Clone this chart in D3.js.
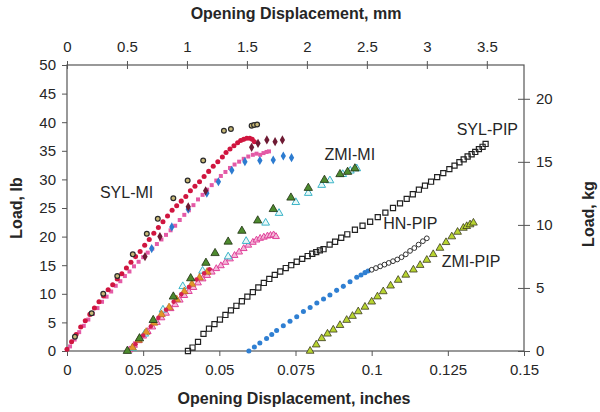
<!DOCTYPE html>
<html><head><meta charset="utf-8">
<script src="https://cdn.jsdelivr.net/npm/d3@7"></script>
<style>
html,body{margin:0;padding:0;background:#fff;}
svg{display:block;font-family:"Liberation Sans",Arial,sans-serif;}
</style></head>
<body><svg id="c" width="600" height="412"></svg>
<script>
// ---- tick labels ----
const inchTicks = [0, 0.025, 0.05, 0.075, 0.1, 0.125, 0.15];
const mmTicks = [0, 0.5, 1, 1.5, 2, 2.5, 3, 3.5];
const lbTicks = [0, 5, 10, 15, 20, 25, 30, 35, 40, 45, 50];
const kgTicks = [0, 5, 10, 15, 20];

// ---- series: [inches, lb] ----
const sylMiRed = [[0,0.3],[0.0015,1.6],[0.003,2.9],[0.0045,4.2],[0.006,5.3],[0.0075,6.4],[0.009,7.5],[0.0105,8.6],[0.012,9.6],[0.0135,10.7],[0.015,11.6],[0.0165,12.6],[0.018,13.5],[0.0195,14.5],[0.021,15.5],[0.0225,16.5],[0.024,17.4],[0.0255,18.5],[0.027,19.5],[0.0285,20.6],[0.03,21.6],[0.0315,22.6],[0.033,23.6],[0.0345,24.6],[0.036,25.4],[0.0375,26.2],[0.039,27.0],[0.0405,28.0],[0.042,28.8],[0.0435,29.6],[0.045,30.5],[0.0465,31.4],[0.048,32.3],[0.0495,33.1],[0.051,33.9],[0.0522,34.7],[0.0535,35.3],[0.0548,35.9],[0.056,36.4],[0.057,36.8],[0.058,37.0],[0.059,37.2],[0.06,37.2],[0.0608,37.0],[0.0615,36.6]];
const sylMiPink = [[0.001,0.8],[0.0025,2.0],[0.004,3.3],[0.0055,4.4],[0.007,5.5],[0.0085,6.5],[0.01,7.5],[0.0115,8.6],[0.013,9.5],[0.0145,10.4],[0.016,11.4],[0.0175,12.2],[0.019,13.1],[0.0205,13.9],[0.022,14.8],[0.0235,15.6],[0.025,16.4],[0.0265,17.2],[0.028,17.9],[0.0295,18.7],[0.031,19.5],[0.0325,20.3],[0.034,21.1],[0.0355,21.9],[0.037,22.9],[0.0385,23.8],[0.04,24.6],[0.0415,25.5],[0.043,26.5],[0.0445,27.3],[0.046,28.2],[0.0475,29.0],[0.049,29.8],[0.0505,30.6],[0.052,31.3],[0.0535,32.0],[0.055,32.6],[0.0565,33.1],[0.058,33.6],[0.0595,34.0],[0.061,34.3],[0.0622,34.5],[0.0634,34.3],[0.0645,34.6],[0.0655,34.8],[0.0663,34.9]];
const sylMiBlack = [[0.0026,2.5],[0.0081,6.6],[0.0119,10.0],[0.0165,13.1],[0.0216,16.9],[0.0262,20.5],[0.0298,23.1],[0.0349,26.7],[0.0396,29.8],[0.0447,33.3],[0.0515,38.5],[0.0538,38.8],[0.0606,39.4],[0.0614,39.5],[0.0624,39.6]];
const sylMiMaroon = [[0.0256,16.5],[0.0305,20.0],[0.0398,25.2],[0.0455,28.0],[0.0606,35.6],[0.0627,36.3],[0.0656,36.9],[0.0683,36.6],[0.0707,36.9]];
const sylMiBlue = [[0.0278,17.9],[0.0344,21.7],[0.0398,24.8],[0.0459,27.6],[0.0497,29.6],[0.0541,31.6],[0.0584,33.1],[0.0633,33.3],[0.0677,33.4],[0.071,34.1],[0.0737,33.8]];

const zmiMiGreen = [[0.0198,0],[0.0238,2.2],[0.0283,5.4],[0.0349,9.5],[0.0406,12.7],[0.0456,15.4],[0.0486,17.1],[0.0529,19.1],[0.0574,21.0],[0.0626,22.8],[0.0677,24.8],[0.0735,26.8],[0.0792,28.5],[0.0845,29.9],[0.0896,30.9],[0.0921,31.3],[0.0945,31.9]];
const zmiMiCyan = [[0.0215,0.5],[0.0255,3.0],[0.0315,7.2],[0.038,11.3],[0.0445,14.0],[0.0529,16.5],[0.0588,19.2],[0.0652,22.4],[0.0696,24.1],[0.0751,26.0],[0.0792,27.6],[0.0836,29.0],[0.0863,29.8],[0.0905,30.9],[0.093,31.5],[0.0951,31.9]];
const zmiMiPink = [[0.0205,0.2],[0.022,1.0],[0.0235,1.8],[0.025,2.6],[0.0265,3.4],[0.028,4.2],[0.0295,5.0],[0.031,5.8],[0.0325,6.6],[0.034,7.4],[0.0355,8.1],[0.037,8.9],[0.0385,9.7],[0.04,10.4],[0.0415,11.1],[0.043,11.9],[0.0445,12.6],[0.046,13.2],[0.0475,13.8],[0.049,14.4],[0.0505,14.9],[0.052,15.5],[0.0535,16.1],[0.055,16.7],[0.0565,17.3],[0.058,17.9],[0.0595,18.5],[0.061,19.0],[0.0622,19.4],[0.0634,19.7],[0.0646,19.9],[0.0658,20.1],[0.0668,20.2],[0.0678,20.3],[0.0686,20.0]];
const zmiMiOrange = [[0.0215,0.6],[0.0235,1.9],[0.026,3.3],[0.0285,4.9],[0.031,6.4],[0.0335,7.6],[0.036,9.0],[0.0385,10.4],[0.041,11.7],[0.0435,12.8],[0.046,13.8]];
const zmiMiRed = [[0.0225,1.2],[0.025,2.7],[0.0275,4.3],[0.03,5.8],[0.0325,7.2],[0.035,8.6],[0.0375,9.9],[0.04,11.2],[0.0425,12.5],[0.045,13.6],[0.0468,14.3]];

const sylPip = [[0.0397,0.0],[0.0412,0.6],[0.043,1.6],[0.0448,3.0],[0.0466,3.9],[0.0484,4.7],[0.0502,5.5],[0.052,6.3],[0.0538,7.1],[0.0556,7.9],[0.0574,8.7],[0.0592,9.5],[0.061,10.3],[0.0628,11.1],[0.0646,11.9],[0.0664,12.6],[0.0682,13.3],[0.07,13.9],[0.0718,14.5],[0.0736,15.0],[0.0754,15.6],[0.0772,16.1],[0.079,16.6],[0.0805,17.0],[0.0818,17.3],[0.083,17.6],[0.0842,17.8],[0.0862,18.6],[0.088,19.1],[0.09,19.8],[0.092,20.4],[0.0945,21.2],[0.097,21.9],[0.0995,22.6],[0.102,23.4],[0.1045,24.2],[0.107,25.0],[0.1093,25.8],[0.1115,26.6],[0.1135,27.4],[0.1155,28.2],[0.1175,28.9],[0.1195,29.6],[0.1215,30.4],[0.1235,31.1],[0.1255,31.8],[0.1272,32.4],[0.1288,33.0],[0.1302,33.5],[0.1315,34.0],[0.1328,34.4],[0.134,34.8],[0.1352,35.3],[0.1364,35.7],[0.1374,36.2]];
const hnPipBlue = [[0.0597,0],[0.0615,0.7],[0.0633,1.4],[0.0655,2.2],[0.0672,2.9],[0.0688,3.6],[0.071,4.4],[0.0732,5.2],[0.0754,6.0],[0.0776,6.9],[0.0798,7.6],[0.082,8.4],[0.0842,9.1],[0.0863,9.8],[0.0885,10.6],[0.0907,11.3],[0.0929,12.1],[0.0951,12.9],[0.0965,13.3],[0.0978,13.7],[0.0988,14.0]];
const hnPipOpen = [[0.1,14.2],[0.1014,14.5],[0.1028,14.8],[0.1042,15.1],[0.1056,15.4],[0.107,15.7],[0.1084,16.0],[0.1098,16.4],[0.1112,16.9],[0.1126,17.5],[0.114,18.0],[0.1154,18.6],[0.1168,19.2],[0.1181,19.7]];
const zmiPip = [[0.0798,0.0],[0.0818,1.1],[0.0836,2.2],[0.0855,3.0],[0.0874,3.7],[0.0896,4.5],[0.0918,5.4],[0.0937,6.1],[0.0956,6.9],[0.0978,7.7],[0.1,8.6],[0.1019,9.5],[0.1038,10.4],[0.1062,11.4],[0.1087,12.4],[0.1112,13.3],[0.1137,14.2],[0.1159,15.0],[0.1181,15.9],[0.1202,16.9],[0.1224,18.0],[0.1244,19.0],[0.1263,20.0],[0.1282,20.8],[0.1301,21.5],[0.1312,21.8],[0.1323,22.1],[0.1334,22.4]];

const curveLabels = [
  {text:"SYL-MI", x:0.0108, y:26.8},
  {text:"ZMI-MI", x:0.0845, y:33.4},
  {text:"SYL-PIP", x:0.1279, y:37.8},
  {text:"HN-PIP", x:0.1038, y:21.3},
  {text:"ZMI-PIP", x:0.1230, y:14.7}
];

// ---- chart ----
const svg = d3.select("#c");
const L = 67, R = 524, T = 65, B = 351;
const x = d3.scaleLinear().domain([0, 0.15]).range([L, R]);
const xMm = d3.scaleLinear().domain([0, 0.15 * 25.4]).range([L, R]);
const y = d3.scaleLinear().domain([0, 50]).range([B, T]);
const yKg = d3.scaleLinear().domain([0, 50 / 2.20462]).range([B, T]);

const axisColor = "#555";
const textColor = "#262626";

function styleAxis(g) {
  g.select(".domain").remove();
  g.selectAll(".tick line").attr("stroke", axisColor).attr("stroke-width", 1);
  g.selectAll(".tick text").attr("fill", textColor).attr("font-size", 15)
   .attr("font-family", '"Liberation Sans", Arial, sans-serif');
}

// bottom
svg.append("g").attr("transform", `translate(0,${B})`)
  .call(d3.axisBottom(x).tickValues(inchTicks).tickSize(5).tickPadding(8).tickFormat(d => String(d)))
  .call(styleAxis);
// top (crossing ticks)
svg.append("g").attr("transform", `translate(0,${T})`)
  .call(d3.axisTop(xMm).tickValues(mmTicks).tickSize(4).tickPadding(9).tickFormat(d => String(d)))
  .call(styleAxis);
svg.append("g").attr("transform", `translate(0,${T})`)
  .call(d3.axisTop(xMm).tickValues(mmTicks).tickSize(-4).tickFormat(""))
  .call(styleAxis);
// left
svg.append("g").attr("transform", `translate(${L},0)`)
  .call(d3.axisLeft(y).tickValues(lbTicks).tickSize(5).tickPadding(6))
  .call(styleAxis);
// right (crossing ticks)
svg.append("g").attr("transform", `translate(${R},0)`)
  .call(d3.axisRight(yKg).tickValues(kgTicks).tickSize(6).tickPadding(6))
  .call(styleAxis);
svg.append("g").attr("transform", `translate(${R},0)`)
  .call(d3.axisRight(yKg).tickValues(kgTicks).tickSize(-6).tickFormat(""))
  .call(styleAxis);

// frame
svg.append("rect").attr("x", L).attr("y", T).attr("width", R - L).attr("height", B - T)
  .attr("fill", "none").attr("stroke", axisColor).attr("stroke-width", 1.2);

// titles
svg.append("text").attr("x", 296).attr("y", 19).attr("text-anchor", "middle")
  .attr("font-size", 16).attr("font-weight", "bold").attr("fill", textColor)
  .text("Opening Displacement, mm");
svg.append("text").attr("x", 294).attr("y", 404).attr("text-anchor", "middle")
  .attr("font-size", 16).attr("font-weight", "bold").attr("fill", textColor)
  .text("Opening Displacement, inches");
svg.append("text").attr("transform", "translate(22,208) rotate(-90)").attr("text-anchor", "middle")
  .attr("font-size", 16).attr("font-weight", "bold").attr("fill", textColor)
  .text("Load, lb");
svg.append("text").attr("transform", "translate(594,214) rotate(-90)").attr("text-anchor", "middle")
  .attr("font-size", 16).attr("font-weight", "bold").attr("fill", textColor)
  .text("Load, kg");

// marker helper
const plot = svg.append("g");
function draw(data, type, size, fill, stroke, sw) {
  plot.append("g").selectAll("path").data(data).join("path")
    .attr("transform", d => `translate(${x(d[0])},${y(d[1])})`)
    .attr("d", d3.symbol().type(type).size(size))
    .attr("fill", fill).attr("stroke", stroke || "none").attr("stroke-width", sw || 0);
}

// ZMI-PIP
draw(zmiPip, d3.symbolTriangle, 26, "#b8d430", "#3a3a20", 0.8);
// HN-PIP
draw(hnPipBlue, d3.symbolCircle, 20, "#2f7fd2");
draw(hnPipOpen, d3.symbolCircle, 18, "none", "#333", 1);
// SYL-PIP
draw(sylPip, d3.symbolSquare, 26, "none", "#222", 1.2);
// ZMI-MI
draw(zmiMiPink, d3.symbolTriangle, 20, "#f4b8d8", "#e0409a", 1);
draw(zmiMiCyan, d3.symbolTriangle, 26, "#e8f8f8", "#3bb4c8", 1);
draw(zmiMiOrange, d3.symbolTriangle, 26, "#e3962a", "#b06010", 0.6);
draw(zmiMiRed, d3.symbolCircle, 16, "#d42050");
draw(zmiMiGreen, d3.symbolTriangle, 30, "#4d8a2e", "#1e2e10", 0.8);
// SYL-MI
draw(sylMiPink, d3.symbolSquare, 16, "#e45aa6");
draw(sylMiBlue, d3.symbolDiamond, 24, "#2c7bd0");
draw(sylMiRed, d3.symbolCircle, 20, "#d0153f");
draw(sylMiMaroon, d3.symbolDiamond, 24, "#6e1a33");
draw(sylMiBlack, d3.symbolCircle, 18, "#c9b977", "#2a2a2a", 1.2);

// curve labels
svg.append("g").selectAll("text").data(curveLabels).join("text")
  .attr("x", d => x(d.x)).attr("y", d => y(d.y))
  .attr("font-size", 16).attr("fill", textColor)
  .text(d => d.text);
</script>
</body></html>
